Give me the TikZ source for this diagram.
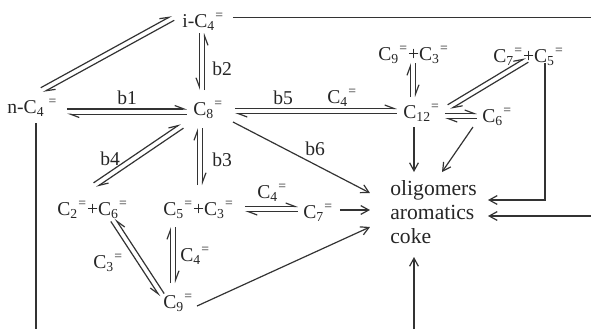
\documentclass[tikz,border=0pt]{standalone}
\usepackage{fontspec}
\setmainfont{Liberation Serif}
\usetikzlibrary{arrows.meta,calc}
\newcommand\Cx[1]{C\textsubscript{#1}\textsuperscript{=}}
\newcommand\eqgap{1.3pt}
% pair of harpoons, lines offset to the left of travel
\newcommand\eqL[2]{%
 \draw[hL] ($#1!\eqgap!90:#2$) -- ($#2!\eqgap!-90:#1$);
 \draw[hL] ($#2!\eqgap!90:#1$) -- ($#1!\eqgap!-90:#2$);}
% pair of harpoons, lines offset to the right of travel
\newcommand\eqR[2]{%
 \draw[hR] ($#1!\eqgap!-90:#2$) -- ($#2!\eqgap!90:#1$);
 \draw[hR] ($#2!\eqgap!-90:#1$) -- ($#1!\eqgap!90:#2$);}
\begin{document}
\begin{tikzpicture}[x=0.5pt,y=-0.5pt,
  sp/.style={inner sep=0pt,anchor=base west,font=\fontsize{9.8}{11}\selectfont,text=black!85},
  lbl/.style={sp},
  ln/.style={line width=0.6pt,draw=black!80},
  hL/.style={ln,-{Straight Barb[left,length=4.5pt,width=3.4pt]}},
  hR/.style={ln,-{Straight Barb[right,length=4.5pt,width=3.4pt]}},
  ar/.style={ln,-{Straight Barb[length=4pt,width=4.4pt]}}]
\useasboundingbox (0,0) rectangle (591,329);
% species
\node[sp] (iC4) at (182,27) {i-\Cx{4}};
\node[sp] (nC4) at (7,113) {n-C\textsubscript{4}\hspace{2pt}\textsuperscript{=}};
\node[sp] (C8) at (193,115) {\Cx{8}};
\node[sp] (C12) at (403,118) {\Cx{12}};
\node[sp] (C9C3) at (378,60) {\Cx{9}+\Cx{3}};
\node[sp] (C7C5) at (493,62) {\Cx{7}+\Cx{5}};
\node[sp] (C6) at (482,122) {\Cx{6}};
\node[sp] (C2C6) at (57,215) {\Cx{2}+\Cx{6}};
\node[sp] (C5C3) at (163,215) {\Cx{5}+\Cx{3}};
\node[sp] (C7) at (303,218) {\Cx{7}};
\node[sp] (C9) at (163,308) {\Cx{9}};
\node[sp,font=\fontsize{10.8}{12}\selectfont,align=left] (prod) at (390,243) {oligomers\\aromatics\\coke};
% labels
\node[lbl] (lb1) at (117,104) {b1};
\node[lbl] (lb2) at (212,75) {b2};
\node[lbl] (lb3) at (212,166) {b3};
\node[lbl] (lb4) at (100,165) {b4};
\node[lbl] (lb5) at (273,104) {b5};
\node[lbl] (lb6) at (305,155) {b6};
\node[lbl] (lc4a) at (327,103) {\Cx{4}};
\node[lbl] (lc4b) at (257,198) {\Cx{4}};
\node[lbl] (lc4c) at (180,261) {\Cx{4}};
\node[lbl] (lc3) at (93,268) {\Cx{3}};
% free ends at the picture edges
\coordinate (Rtop) at (591,17.5);
\coordinate (Rmid) at (591,216);
\coordinate (Bl) at (36,329);
\coordinate (Bm) at (414,329);
% equilibria
\eqL{([shift={(35,-23)}]nC4.base west)}{([shift={(-9,-9)}]iC4.base west)}
\eqL{([shift={(60,-1.5)}]nC4.base west)}{([shift={(-6,-3.5)}]C8.base west)}
\eqR{([shift={(9,-25)}]C8.base west)}{([shift={(20,6)}]iC4.base west)}
\eqL{([shift={(42,-4)}]C8.base west)}{([shift={(-6,-7)}]C12.base west)}
\eqL{([shift={(37,-30)}]C5C3.base west)}{([shift={(7,13)}]C8.base west)}
\eqL{([shift={(38,-30)}]C2C6.base west)}{([shift={(-11,11)}]C8.base west)}
\eqR{([shift={(56,5)}]C2C6.base west)}{([shift={(-1,-13)}]C9.base west)}
\eqL{([shift={(10,-25)}]C9.base west)}{([shift={(10,12)}]C5C3.base west)}
\eqL{([shift={(82,-6)}]C5C3.base west)}{([shift={(-5,-9)}]C7.base west)}
\eqL{([shift={(10,-21)}]C12.base west)}{([shift={(35,3)}]C9C3.base west)}
\eqL{([shift={(46,-11)}]C12.base west)}{([shift={(34,-2)}]C7C5.base west)}
\eqL{([shift={(42,-2)}]C12.base west)}{([shift={(-5,-6)}]C6.base west)}
% irreversible steps
\draw[ar] ([shift={(40,7)}]C8.base west) -- ([shift={(-20,-50)}]prod.base west);
\draw[ar] ([shift={(11,9)}]C12.base west) -- ([shift={(24,-71)}]prod.base west);
\draw[ar] ([shift={(-9,5)}]C6.base west) -- ([shift={(52,-71)}]prod.base west);
\draw[ar] ([shift={(37,-8)}]C7.base west) -- ([shift={(-20,-33)}]prod.base west);
\draw[ar] ([shift={(34,-2)}]C9.base west) -- ([shift={(-20,-16)}]prod.base west);
\draw[ar] ([shift={(52,1)}]C7C5.base west) |- ([shift={(98,-43)}]prod.base west);
\draw[ar] (Rmid) -- ([shift={(98,-27)}]prod.base west);
\draw[ar] (Bm) -- ([shift={(24,14)}]prod.base west);
\draw[ln] ([shift={(51,-9.5)}]iC4.base west) -- (Rtop);
\draw[ln] ([shift={(29,10)}]nC4.base west) -- (Bl);
\end{tikzpicture}
\end{document}
